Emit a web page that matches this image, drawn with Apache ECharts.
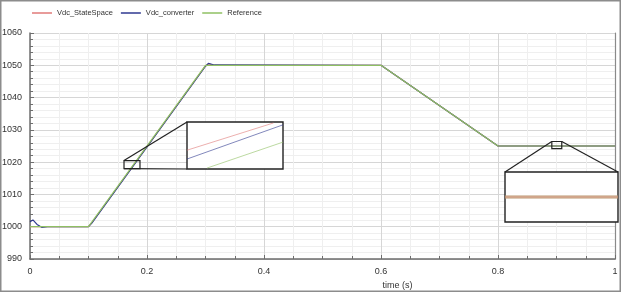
<!DOCTYPE html>
<html><head><meta charset="utf-8">
<script src="https://cdn.jsdelivr.net/npm/echarts@6/dist/echarts.min.js"></script>
<style>html,body{margin:0;padding:0;background:#fff}#c{width:621px;height:292px}</style>
</head><body><div id="c"></div><script>
// ---- data ----
const seriesNames = ['Vdc_StateSpace', 'Vdc_converter', 'Reference'];
const seriesColors = ['#e07a78', '#2f3990', '#8fc063'];
const yTicks = [990, 1000, 1010, 1020, 1030, 1040, 1050, 1060];
const xTicks = [0, 0.2, 0.4, 0.6, 0.8, 1];

const refTime  = [0, 0.1, 0.3, 0.6, 0.8, 1.0];
const refValue = [1000, 1000, 1050, 1050, 1025, 1025];
const convTime  = [0, 0.005, 0.012, 0.02, 0.03, 0.1, 0.106, 0.3, 0.305, 0.315, 0.6, 0.8, 1.0];
const convValue = [1001.5, 1002.1, 1000.7, 999.8, 1000, 1000, 1001.2, 1049.7, 1050.6, 1050.1, 1050, 1025, 1025];
const ssTime  = [0, 0.1, 0.106, 0.3, 0.305, 0.315, 0.6, 0.8, 1.0];
const ssValue = [1000, 1000, 1001.3, 1049.8, 1050.4, 1050, 1050, 1025, 1025];

// zoom A (on the first ramp)
const zoomARangeTime  = [0.1607, 0.188];
const zoomARangeValue = [1018, 1020.5];
const zoomASsTime   = [0.1607, 0.1853];
const zoomASsValue  = [1019.0, 1020.45];
const zoomAConvTime  = [0.1607, 0.188];
const zoomAConvValue = [1018.53, 1020.35];
const zoomARefTime   = [0.1664, 0.188];
const zoomARefValue  = [1018.05, 1019.43];

// zoom B (on the final plateau)
const zoomBRangeTime  = [0.892, 0.909];
const zoomBRangeValue = [1024.2, 1026.4];
const zoomBTime  = [0.892, 0.909];
const zoomBValue = [1025.3, 1025.3];

// ---- layout ----
const FONT = 'Liberation Sans';
const mainGrid = {left: 30, right: 6, top: 33, bottom: 33, outerBoundsMode: 'none', containLabel: false};
const insetA = {left: 187, top: 122, width: 96, height: 47};
const insetB = {left: 505, top: 172, width: 113, height: 50};

const pairs = (t, v) => t.map((x, i) => [x, v[i]]);
const hiddenAxis = (gi, r) => ({type: 'value', gridIndex: gi, min: r[0], max: r[1], show: false});

const chart = echarts.init(document.getElementById('c'), null, {renderer: 'canvas'});

function lineSeries(name, data, xi, yi, z, extra) {
  const idx = seriesNames.indexOf(name);
  return Object.assign({
    type: 'line', name: name, data: data, xAxisIndex: xi, yAxisIndex: yi,
    showSymbol: false, symbol: 'none', animation: false, z: z,
    lineStyle: {color: seriesColors[idx], width: 1.2},
    itemStyle: {color: seriesColors[idx]}
  }, extra || {});
}

const option = {
  backgroundColor: '#fff',
  animation: false,
  textStyle: {fontFamily: FONT},
  legend: {
    data: seriesNames, left: 32, top: 9, padding: 0, icon: 'rect', itemWidth: 20, itemHeight: 1.5,
    itemGap: 8, textStyle: {fontSize: 7.5, color: '#333', fontFamily: FONT}
  },
  grid: [
    mainGrid,
    Object.assign({outerBoundsMode: 'none'}, insetA),
    Object.assign({outerBoundsMode: 'none'}, insetB)
  ],
  xAxis: [
    {
      type: 'value', gridIndex: 0, min: xTicks[0], max: xTicks[xTicks.length - 1], interval: 0.2,
      name: 'time (s)', nameLocation: 'middle', nameGap: 19,
      nameTextStyle: {fontSize: 9, color: '#333', padding: [0, 0, 0, 150]},
      axisLine: {lineStyle: {color: '#6e6e6e', width: 1.5}},
      axisTick: {inside: true, length: 4, lineStyle: {color: '#6e6e6e'}},
      minorTick: {show: true, splitNumber: 4, length: 3, lineStyle: {color: '#6e6e6e'}},
      axisLabel: {fontSize: 9, color: '#333', margin: 8, formatter: v => String(v)},
      splitLine: {show: true, lineStyle: {color: '#d6d6d6', width: 1}},
      minorSplitLine: {show: true, lineStyle: {color: '#efefef', width: 1}}
    },
    hiddenAxis(1, zoomARangeTime),
    hiddenAxis(2, zoomBRangeTime)
  ],
  yAxis: [
    {
      type: 'value', gridIndex: 0, min: yTicks[0], max: yTicks[yTicks.length - 1], interval: 10,
      axisLine: {show: true, lineStyle: {color: '#6e6e6e', width: 1.5}},
      axisTick: {show: true, inside: true, length: 4, lineStyle: {color: '#6e6e6e'}},
      minorTick: {show: true, splitNumber: 5, length: 3, lineStyle: {color: '#6e6e6e'}},
      axisLabel: {fontSize: 9, color: '#333', margin: 8, formatter: v => String(v)},
      splitLine: {show: true, lineStyle: {color: '#d6d6d6', width: 1}},
      minorSplitLine: {show: true, lineStyle: {color: '#efefef', width: 1}}
    },
    {
      type: 'value', gridIndex: 0, position: 'right', min: yTicks[0], max: yTicks[yTicks.length - 1],
      axisLine: {show: true, lineStyle: {color: '#8a8a8a', width: 1.2}},
      axisTick: {show: false}, axisLabel: {show: false}, splitLine: {show: false}
    },
    hiddenAxis(1, zoomARangeValue),
    hiddenAxis(2, zoomBRangeValue)
  ],
  series: [
    lineSeries('Vdc_StateSpace', pairs(ssTime, ssValue), 0, 0, 2),
    lineSeries('Vdc_converter', pairs(convTime, convValue), 0, 0, 3),
    lineSeries('Reference', pairs(refTime, refValue), 0, 0, 4),
    lineSeries('Vdc_StateSpace', pairs(zoomASsTime, zoomASsValue), 1, 2, 60, {lineStyle: {color: seriesColors[0], width: 1, opacity: 0.6}}),
    lineSeries('Vdc_converter', pairs(zoomAConvTime, zoomAConvValue), 1, 2, 60, {lineStyle: {color: seriesColors[1], width: 1, opacity: 0.6}}),
    lineSeries('Reference', pairs(zoomARefTime, zoomARefValue), 1, 2, 60, {lineStyle: {color: seriesColors[2], width: 1, opacity: 0.6}}),
    lineSeries('Reference', pairs(zoomBTime, zoomBValue), 2, 3, 61, {lineStyle: {color: seriesColors[2], width: 3, opacity: 0.6}}),
    lineSeries('Vdc_StateSpace', pairs(zoomBTime, zoomBValue), 2, 3, 62, {lineStyle: {color: seriesColors[0], width: 3, opacity: 0.55}})
  ]
};
chart.setOption(option);

// ---- decorations: zoom boxes and connectors ----
const px = (t, v) => chart.convertToPixel({xAxisIndex: 0, yAxisIndex: 0}, [t, v]);
const aTL = px(zoomARangeTime[0], zoomARangeValue[1]);
const aBR = px(zoomARangeTime[1], zoomARangeValue[0]);
const bTL = px(zoomBRangeTime[0], zoomBRangeValue[1]);
const bBR = px(zoomBRangeTime[1], zoomBRangeValue[0]);
const stroke = '#222';
chart.setOption({
  graphic: [
    {type: 'rect', z: 100, silent: true, shape: {x: 0.75, y: 0.75, width: 619.5, height: 290.5},
     style: {fill: 'none', stroke: '#8c8c8c', lineWidth: 1.5}},
    {type: 'rect', z: 50, silent: true, shape: {x: insetA.left, y: insetA.top, width: insetA.width, height: insetA.height},
     style: {fill: '#fff', stroke: stroke, lineWidth: 1.4}},
    {type: 'rect', z: 50, silent: true, shape: {x: insetB.left, y: insetB.top, width: insetB.width, height: insetB.height},
     style: {fill: '#fff', stroke: stroke, lineWidth: 1.4}},
    {type: 'rect', z: 50, silent: true, shape: {x: aTL[0], y: aTL[1], width: aBR[0] - aTL[0], height: aBR[1] - aTL[1]},
     style: {fill: 'none', stroke: stroke, lineWidth: 1.2}},
    {type: 'rect', z: 50, silent: true, shape: {x: bTL[0], y: bTL[1], width: bBR[0] - bTL[0], height: bBR[1] - bTL[1]},
     style: {fill: 'none', stroke: stroke, lineWidth: 1.2}},
    {type: 'line', z: 50, silent: true, shape: {x1: aTL[0], y1: aTL[1], x2: insetA.left, y2: insetA.top},
     style: {stroke: stroke, lineWidth: 1.2}},
    {type: 'line', z: 50, silent: true, shape: {x1: aTL[0], y1: aBR[1], x2: insetA.left, y2: insetA.top + insetA.height},
     style: {stroke: stroke, lineWidth: 1.2}},
    {type: 'line', z: 50, silent: true, shape: {x1: bTL[0], y1: bTL[1], x2: insetB.left, y2: insetB.top},
     style: {stroke: stroke, lineWidth: 1.2}},
    {type: 'line', z: 50, silent: true, shape: {x1: bBR[0], y1: bTL[1], x2: insetB.left + insetB.width, y2: insetB.top},
     style: {stroke: stroke, lineWidth: 1.2}}
  ]
});
</script></body></html>
